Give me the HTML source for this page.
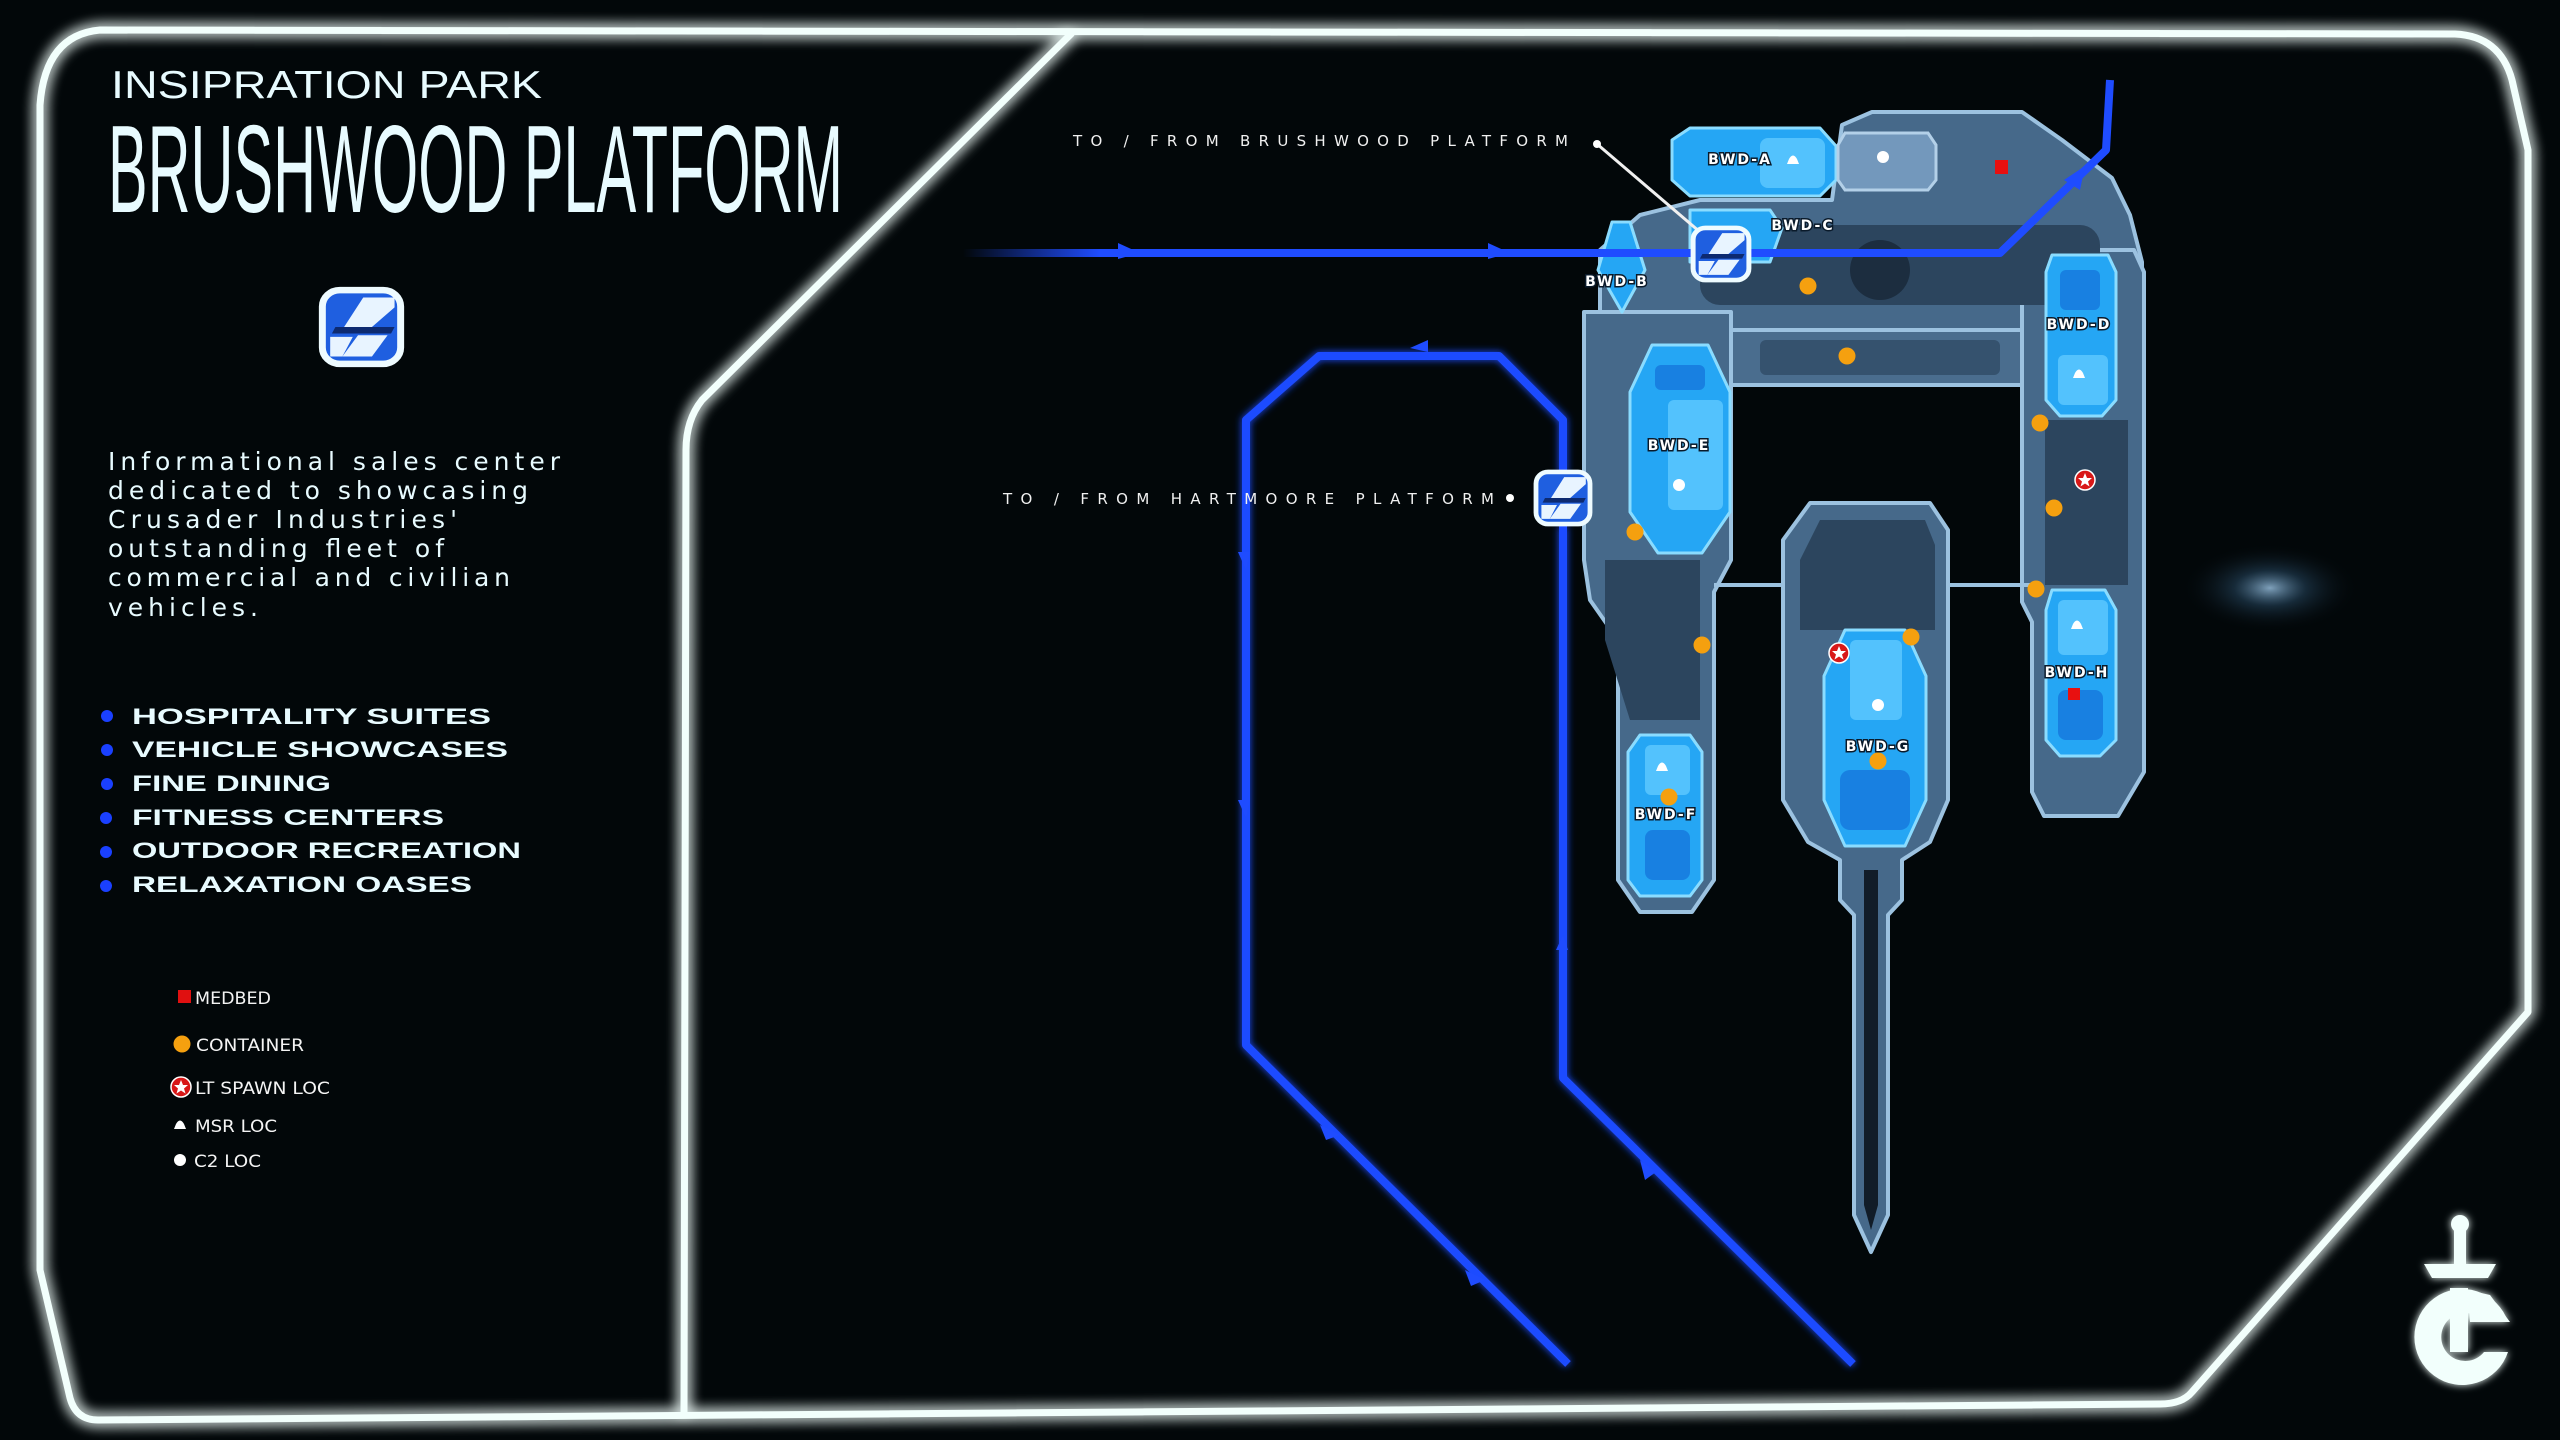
<!DOCTYPE html>
<html><head><meta charset="utf-8"><style>
html,body{margin:0;padding:0;background:#020608;}
svg{display:block;}
</style></head><body>
<svg width="2560" height="1440" viewBox="0 0 2560 1440" xmlns="http://www.w3.org/2000/svg">
<defs>
<filter id="glow" x="-10%" y="-10%" width="120%" height="120%">
<feGaussianBlur stdDeviation="7" result="b"/>
<feMerge><feMergeNode in="b"/><feMergeNode in="b"/><feMergeNode in="SourceGraphic"/></feMerge>
</filter>
<filter id="bglow" x="-10%" y="-10%" width="120%" height="120%" filterUnits="userSpaceOnUse">
<feGaussianBlur stdDeviation="4" result="b"/>
<feMerge><feMergeNode in="b"/><feMergeNode in="SourceGraphic"/></feMerge>
</filter>
<radialGradient id="spot" cx="0.5" cy="0.5" r="0.5">
<stop offset="0" stop-color="#9fc8e8" stop-opacity="0.8"/>
<stop offset="0.4" stop-color="#3b6a90" stop-opacity="0.35"/>
<stop offset="1" stop-color="#000" stop-opacity="0"/>
</radialGradient>
<linearGradient id="fadeL" gradientUnits="userSpaceOnUse" x1="963" y1="0" x2="1100" y2="0">
<stop offset="0" stop-color="#1f4cff" stop-opacity="0"/>
<stop offset="1" stop-color="#1f4cff" stop-opacity="1"/>
</linearGradient>
<g id="icon">
<rect x="5" y="5" width="90" height="90" rx="20" fill="#1f5fe0" stroke="#eefbff" stroke-width="8"/>
<polygon points="52,14 88,14 88,26 62,50 30,50" fill="#e8f4ff"/>
<polygon points="14,62 40,62 28,86 14,86" fill="#e8f4ff"/>
<polygon points="46,60 80,60 62,86 28,86" fill="#e8f4ff"/>
<polygon points="20,50 88,50 84,58 16,58" fill="#0d2a70"/>
</g>
<g id="star"><circle r="10" fill="#d81818" stroke="#fff" stroke-width="1.5"/><polygon points="0,-7 2,-2 7,-2 3,1.5 4.5,6.5 0,3.5 -4.5,6.5 -3,1.5 -7,-2 -2,-2" fill="#fff"/></g>
<g id="msr"><path d="M-6,4 L-4,-1 Q0,-8 4,-1 L6,4 Z" fill="#fff"/></g>
<g id="c2"><circle r="6" fill="#fff"/></g>
<g id="cont"><circle r="8.5" fill="#f5a00f"/></g>
</defs>

<rect width="2560" height="1440" fill="#020709"/>
<ellipse cx="2270" cy="588" rx="90" ry="45" fill="url(#spot)"/>

<!-- frame -->
<g fill="none" stroke="#f2fffc" stroke-width="7" stroke-linejoin="round" filter="url(#glow)">
<path d="M 100 30 L 2455 34 Q 2500 36 2512 80 L 2528 150 L 2528 1012 L 2192 1392 Q 2182 1404 2160 1404 L 98 1420 Q 76 1420 70 1398 L 40 1270 L 40 105 Q 45 35 100 30 Z"/>
<path d="M 1072 33 L 702 400 Q 686 420 686 450 L 684 1412"/>
</g>

<!-- left panel text -->
<g fill="#e8fbff" font-family="'Liberation Sans', sans-serif">
<text x="111" y="98" font-size="39" textLength="431" lengthAdjust="spacingAndGlyphs">INSIPRATION PARK</text>
<text x="108" y="212" font-family="'Liberation Sans Narrow','Liberation Sans',sans-serif" font-size="124" textLength="735" lengthAdjust="spacingAndGlyphs">BRUSHWOOD PLATFORM</text>
<g font-size="25" font-family="'DejaVu Sans', sans-serif">
<text x="108" y="470" textLength="452" lengthAdjust="spacing">Informational sales center</text>
<text x="108" y="499" textLength="420" lengthAdjust="spacing">dedicated to showcasing</text>
<text x="108" y="528" textLength="349" lengthAdjust="spacing">Crusader Industries'</text>
<text x="108" y="557" textLength="336" lengthAdjust="spacing">outstanding fleet of</text>
<text x="108" y="586" textLength="402" lengthAdjust="spacing">commercial and civilian</text>
<text x="108" y="616" textLength="150" lengthAdjust="spacing">vehicles.</text>
</g>
<g font-size="22" font-weight="bold">
<text x="132" y="724" textLength="359" lengthAdjust="spacingAndGlyphs">HOSPITALITY SUITES</text>
<text x="132" y="757" textLength="376" lengthAdjust="spacingAndGlyphs">VEHICLE SHOWCASES</text>
<text x="132" y="791" textLength="199" lengthAdjust="spacingAndGlyphs">FINE DINING</text>
<text x="132" y="825" textLength="312" lengthAdjust="spacingAndGlyphs">FITNESS CENTERS</text>
<text x="132" y="858" textLength="389" lengthAdjust="spacingAndGlyphs">OUTDOOR RECREATION</text>
<text x="132" y="892" textLength="340" lengthAdjust="spacingAndGlyphs">RELAXATION OASES</text>
</g>
</g>
<g fill="#1a40ff">
<circle cx="107" cy="716" r="6"/><circle cx="107" cy="750" r="6"/><circle cx="107" cy="784" r="6"/>
<circle cx="106" cy="818" r="6"/><circle cx="106" cy="852" r="6"/><circle cx="106" cy="886" r="6"/>
</g>
<use href="#icon" transform="translate(318,286) scale(0.87,0.82)"/>

<!-- legend -->
<rect x="178" y="990" width="13" height="13" fill="#e01010"/>
<use href="#cont" transform="translate(182,1044)"/>
<use href="#star" transform="translate(181,1087)"/>
<use href="#msr" transform="translate(180,1125)"/>
<use href="#c2" transform="translate(180,1160)"/>
<g fill="#f4f4f4" font-family="'DejaVu Sans', sans-serif" font-size="17">
<text x="195" y="1004" textLength="76" lengthAdjust="spacingAndGlyphs">MEDBED</text>
<text x="196" y="1051" textLength="108" lengthAdjust="spacingAndGlyphs">CONTAINER</text>
<text x="195" y="1094" textLength="135" lengthAdjust="spacingAndGlyphs">LT SPAWN LOC</text>
<text x="195" y="1132" textLength="82" lengthAdjust="spacingAndGlyphs">MSR LOC</text>
<text x="194" y="1167" textLength="67" lengthAdjust="spacingAndGlyphs">C2 LOC</text>
</g>

<!-- blue routes (loop) -->
<g fill="none" stroke="#1f4cff" stroke-width="8" stroke-linejoin="round" filter="url(#bglow)">
<path d="M 1563 474 L 1563 420 L 1499 356 L 1319 356 L 1246 420 L 1246 1045 L 1568 1364"/>
<path d="M 1563 526 L 1563 1078 L 1853 1364"/>
</g>
<g fill="#1f4cff">
<polygon points="1410,348 1428,340 1428,352"/>
<polygon points="1238,552 1246,570 1250,552"/>
<polygon points="1238,800 1246,818 1250,800"/>
<polygon points="1320,1125 1340,1135 1326,1140"/>
<polygon points="1465,1270 1485,1280 1471,1286"/>
<polygon points="1556,950 1563,935 1568,950"/>
<polygon points="1640,1160 1656,1172 1645,1180"/>
</g>

<!-- map structures -->
<g stroke="#9cc2e0" stroke-width="4" stroke-linejoin="round">
<polygon points="1600,330 1600,250 1640,215 1700,200 1832,200 1842,125 1872,112 2022,112 2062,140 2112,178 2130,215 2142,262 2142,335" fill="#46698a"/>
<polygon points="1584,312 1731,312 1731,560 1714,592 1714,880 1692,912 1640,912 1618,880 1618,640 1590,600 1584,560" fill="#46698a"/>
<polygon points="2022,250 2134,250 2144,272 2144,772 2118,816 2044,816 2032,792 2032,622 2022,602" fill="#46698a"/>
<rect x="1731" y="330" width="291" height="55" fill="#4a6d8e"/>
<polygon points="1783,540 1810,503 1930,503 1948,530 1948,800 1930,842 1902,860 1902,900 1888,915 1888,1215 1871,1252 1854,1215 1854,915 1840,900 1840,860 1808,842 1783,800" fill="#46698a"/>
</g>
<g fill="#2c455e">
<rect x="1700" y="225" width="400" height="80" rx="20"/>
<rect x="1760" y="340" width="240" height="35" rx="6" fill="#35526e"/>
<polygon points="1800,560 1820,520 1925,520 1935,545 1935,630 1800,630"/>
<polygon points="1605,560 1700,560 1700,720 1630,720 1605,640"/>
<polygon points="2045,420 2128,420 2128,585 2045,585"/>
<polygon points="1864,870 1878,870 1878,1205 1871,1230 1864,1205" fill="#111c28"/>
<circle cx="1880" cy="270" r="30" fill="#1c2d3f"/>
</g>
<g stroke="#9cc2e0" stroke-width="4">
<line x1="1714" y1="585" x2="1783" y2="585"/><line x1="1948" y1="585" x2="2032" y2="585"/>
</g>

<!-- rooms -->
<g fill="#25a6f4" stroke="#8adcff" stroke-width="3" stroke-linejoin="round">
<polygon points="1672,140 1690,128 1820,128 1836,146 1836,180 1820,196 1690,196 1672,180"/>
<polygon points="1690,210 1770,210 1782,228 1770,262 1690,262"/>
<polygon points="1612,222 1630,222 1645,270 1622,312 1598,270"/>
<polygon points="1652,345 1708,345 1730,392 1730,512 1702,553 1658,553 1630,512 1630,392"/>
<polygon points="1640,735 1690,735 1702,752 1702,880 1690,896 1640,896 1628,880 1628,752"/>
<polygon points="2052,255 2108,255 2116,272 2116,400 2102,416 2060,416 2046,400 2046,272"/>
<polygon points="2052,590 2105,590 2116,610 2116,740 2100,756 2060,756 2046,740 2046,610"/>
<polygon points="1845,630 1905,630 1926,676 1926,800 1905,846 1845,846 1824,800 1824,676"/>
</g>
<g fill="#5fc9ff" opacity="0.8">
<rect x="1760" y="138" width="65" height="50" rx="8"/>
<rect x="1668" y="400" width="55" height="110" rx="6"/>
<rect x="1645" y="745" width="45" height="50" rx="6"/>
<rect x="2058" y="355" width="50" height="50" rx="6"/>
<rect x="2058" y="600" width="50" height="55" rx="6"/>
<rect x="1850" y="640" width="52" height="80" rx="6"/>
</g>
<g fill="#1370d8" opacity="0.7">
<rect x="1645" y="830" width="45" height="50" rx="8"/>
<rect x="2058" y="690" width="45" height="50" rx="8"/>
<rect x="1840" y="770" width="70" height="60" rx="10"/>
<rect x="1655" y="365" width="50" height="25" rx="6"/>
<rect x="2060" y="270" width="40" height="40" rx="6"/>
</g>
<polygon points="1845,133 1928,133 1936,145 1936,180 1928,190 1845,190 1838,180 1838,145" fill="#7398bc" stroke="#b3d0e8" stroke-width="3"/>

<!-- top blue route (over map) -->
<g fill="none" stroke-width="8" stroke-linejoin="round">
<path d="M 963 253 L 1700 253" stroke="url(#fadeL)"/>
<path d="M 1745 253 L 2000 253 L 2106 150 L 2110 80" stroke="#1f4cff"/>
</g>
<g fill="#1f4cff">
<polygon points="1118,243 1140,253 1118,259"/>
<polygon points="1488,243 1510,253 1488,259"/>
<polygon points="2064,180 2085,166 2080,190"/>
</g>

<!-- markers -->
<rect x="1995" y="160" width="13" height="14" fill="#e81010"/>
<rect x="2068" y="688" width="12" height="12" fill="#e81010"/>
<g>
<use href="#cont" transform="translate(1808,286)"/><use href="#cont" transform="translate(1847,356)"/>
<use href="#cont" transform="translate(2040,423)"/><use href="#cont" transform="translate(2054,508)"/>
<use href="#cont" transform="translate(2036,589)"/><use href="#cont" transform="translate(1635,532)"/>
<use href="#cont" transform="translate(1702,645)"/><use href="#cont" transform="translate(1669,797)"/>
<use href="#cont" transform="translate(1911,637)"/><use href="#cont" transform="translate(1878,761)"/>
<use href="#star" transform="translate(2085,480)"/><use href="#star" transform="translate(1839,653)"/>
<use href="#msr" transform="translate(1793,160)"/><use href="#msr" transform="translate(2079,374)"/>
<use href="#msr" transform="translate(2077,625)"/><use href="#msr" transform="translate(1662,767)"/>
<use href="#c2" transform="translate(1883,157)"/><use href="#c2" transform="translate(1679,485)"/>
<use href="#c2" transform="translate(1878,705)"/>
</g>
<g fill="#fff" stroke="#0a1a2a" stroke-width="3" paint-order="stroke" font-family="'DejaVu Sans', sans-serif" font-size="14" font-weight="bold" text-anchor="middle" letter-spacing="2">
<text x="1740" y="164">BWD-A</text>
<text x="1803" y="230">BWD-C</text>
<text x="1617" y="286">BWD-B</text>
<text x="2079" y="329">BWD-D</text>
<text x="1679" y="450">BWD-E</text>
<text x="1666" y="819">BWD-F</text>
<text x="1878" y="751">BWD-G</text>
<text x="2077" y="677">BWD-H</text>
</g>

<!-- connector labels -->
<g fill="#f0f0f0" font-family="'DejaVu Sans', sans-serif" font-size="15">
<text x="1073" y="146" textLength="495" lengthAdjust="spacing">TO / FROM BRUSHWOOD PLATFORM</text>
<text x="1003" y="504" textLength="491" lengthAdjust="spacing">TO / FROM HARTMOORE PLATFORM</text>
</g>
<line x1="1597" y1="144" x2="1700" y2="232" stroke="#f0f0f0" stroke-width="3"/>
<circle cx="1597" cy="144" r="4" fill="#fff"/>
<circle cx="1510" cy="498" r="4" fill="#fff"/>
<use href="#icon" transform="translate(1690,225) scale(0.62,0.58)"/>
<use href="#icon" transform="translate(1533,469) scale(0.6,0.58)"/>

<!-- logo -->
<g fill="#f2fffc" filter="url(#bglow)">
<circle cx="2460" cy="1224" r="9"/>
<rect x="2454" y="1224" width="12" height="45"/>
<polygon points="2424,1264 2496,1264 2488,1278 2432,1278"/>
<path d="M 2508 1322 A 48 48 0 1 0 2508 1352 L 2484 1352 A 24 24 0 1 1 2484 1322 Z"/>
<rect x="2450" y="1288" width="18" height="64"/>
<path d="M 2468 1290 L 2490 1295 L 2510 1322 L 2470 1322 Z"/>
</g>
</svg>
</body></html>
